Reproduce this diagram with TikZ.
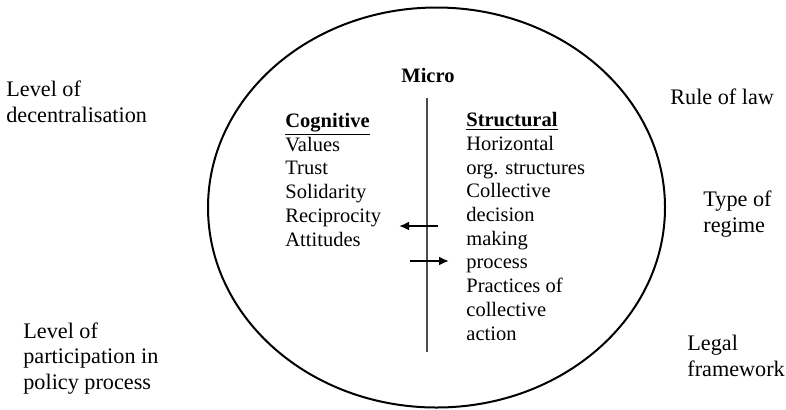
\documentclass[tikz,border=0pt]{standalone}
\usepackage{fontspec}
\setmainfont{Liberation Serif}
\usepackage{tikz}
\usetikzlibrary{arrows.meta}
\tikzset{>={Latex[length=5pt, width=4.5pt]}}
\definecolor{gr1}{gray}{.3}
\tikzset{
    inner/.style={font=\fontsize{10.25}{11.85}\selectfont, align=left, inner sep=0pt, anchor=base west},
    outer/.style={font=\fontsize{11.1}{12.75}\selectfont, align=left, inner sep=0pt, anchor=base west}
}

\begin{document}
\begin{tikzpicture}[x=.5pt, y=-.5pt]
    \useasboundingbox(0, 0)rectangle(786, 409);
    \draw[line width=1pt](436.5, 207.5)ellipse[x radius=114.25pt, y radius=100pt];
    % divider between the two sides
    \coordinate(top)at(427, 98);
    \coordinate(bot)at(427, 352);
    \draw[gr1, line width=.75pt](top)--(bot);
    \node[inner, anchor=base, font=\fontsize{10.25}{11.85}\selectfont\bfseries](micro)at(428, 82){Micro};
    % multi-line nodes sit on the baseline of their last line
    \node[inner](cog)at(285, 246){\textbf{\underline{Cognitive}}\\Values\\Trust\\Solidarity\\Reciprocity\\Attitudes};
    \node[inner](struc)at(466, 340){\textbf{\underline{Structural}}\\Horizontal\\org. structures\\Collective\\decision\\making\\process\\Practices of\\collective\\action};
    % arrows across the divider
    \coordinate(la)at(438, 226);
    \coordinate(lb)at(399, 226);
    \draw[->, line width=1pt](la)--(lb);
    \coordinate(ra)at(410, 261);
    \coordinate(rb)at(449, 261);
    \draw[->, line width=1pt](ra)--(rb);
    % outside factors
    \node[outer](dec)at(6, 122){Level of\\decentralisation};
    \node[outer](part)at(23, 389){Level of\\participation in\\policy process};
    \node[outer](rule)at(670, 104){Rule of law};
    \node[outer](regime)at(703, 232){Type of\\regime};
    \node[outer](legal)at(687, 376){Legal\\framework};
\end{tikzpicture}
\end{document}
